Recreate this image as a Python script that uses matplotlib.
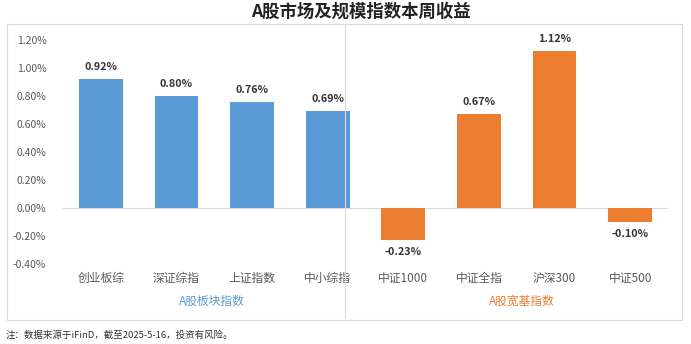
import numpy as np
import matplotlib.pyplot as plt
from matplotlib.patches import Rectangle
from matplotlib.lines import Line2D

plt.rcParams['font.family'] = ['Noto Sans CJK SC', 'DejaVu Sans']

# weekly returns (%)
sector_names = ["创业板综", "深证综指", "上证指数", "中小综指"]
sector_returns = [0.92, 0.80, 0.76, 0.69]
broad_names = ["中证1000", "中证全指", "沪深300", "中证500"]
broad_returns = [-0.23, 0.67, 1.12, -0.10]
yticks = [-0.4, -0.2, 0.0, 0.2, 0.4, 0.6, 0.8, 1.0, 1.2]

blue = "#5B9BD5"
orange = "#ED7D31"
grey = "#595959"

W, H = 691, 344
fig = plt.figure(figsize=(W / 100, H / 100), dpi=100)

def fx(px):
    return px / W

def fy(py):
    return 1 - py / H

# outer frame and group separator
fig.patches.append(Rectangle((fx(7), fy(320)), fx(675), (320 - 24) / H,
                             transform=fig.transFigure, fill=False,
                             edgecolor="#D9D9D9", linewidth=0.8))
fig.lines.append(Line2D([fx(345), fx(345)], [fy(25), fy(318)],
                        transform=fig.transFigure, color="#D9D9D9", linewidth=0.8))

ax = fig.add_axes([fx(63), fy(264), fx(668 - 63), (264 - 40) / H])
ax.set_facecolor("none")

names = sector_names + broad_names
values = sector_returns + broad_returns
colors = [blue] * len(sector_names) + [orange] * len(broad_names)
x = np.arange(len(names))

ax.bar(x, values, width=0.58, color=colors, zorder=2)
ax.axhline(0, color="#D9D9D9", linewidth=0.8, zorder=1)

for xi, v in zip(x, values):
    if v >= 0:
        ax.text(xi, v + 0.05, f"{v:.2f}%", ha="center", va="bottom",
                fontsize=7.8, fontweight="bold", color="#333333")
    else:
        ax.text(xi, v - 0.05, f"{v:.2f}%", ha="center", va="top",
                fontsize=7.8, fontweight="bold", color="#333333")

ax.set_xlim(-0.5, len(names) - 0.5)
ax.set_ylim(-0.4, 1.2)
ax.set_yticks(yticks)
ax.set_yticklabels([f"{t:.2f}%" for t in yticks], color=grey, fontsize=7.5)
ax.set_xticks(x)
ax.set_xticklabels(names, color=grey, fontsize=8.5)
ax.tick_params(axis="both", length=0)
ax.tick_params(axis="y", pad=12)
ax.tick_params(axis="x", pad=6)
for s in ax.spines.values():
    s.set_visible(False)

fig.text(fx(212), fy(301), "A股板块指数", ha="center", va="center",
         color=blue, fontsize=8.5)
fig.text(fx(522), fy(301), "A股宽基指数", ha="center", va="center",
         color=orange, fontsize=8.5)

fig.text(fx(361), fy(12), "A股市场及规模指数本周收益", ha="center", va="center",
         fontsize=12.5, fontweight="bold", color="#222222")
fig.text(fx(6), fy(335), "注：数据来源于iFinD，截至2025-5-16，投资有风险。",
         ha="left", va="center", fontsize=6.8, color="#333333")

fig.savefig("out.png", dpi=100)
